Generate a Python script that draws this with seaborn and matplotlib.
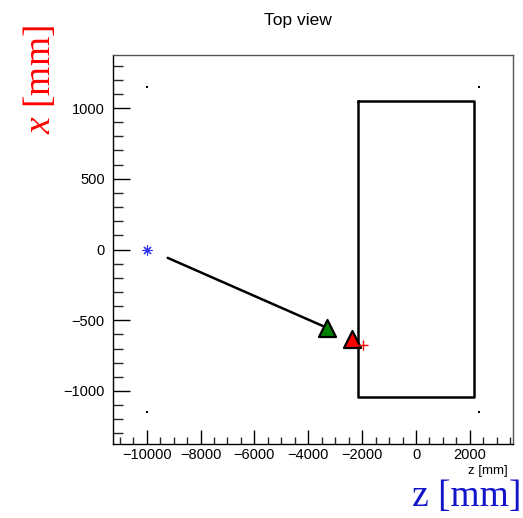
import matplotlib
matplotlib.use("Agg")
import matplotlib.pyplot as plt
from matplotlib.ticker import MultipleLocator
import seaborn as sns
import pandas as pd

# ---- data ----
box_z = [-2160, 2160, 2160, -2160, -2160]
box_x = [1050, 1050, -1045, -1045, 1050]
track_z = [-9220, -3315]
track_x = [-59, -553]
source_z = [-10000]
source_x = [0]
green_z = [-3315]
green_x = [-553]
red_tri_z = [-2365]
red_tri_x = [-636]
red_plus_z = [-1980]
red_plus_x = [-678]
corner_z = [-10000, 2350, -10000, 2350]
corner_x = [1150, 1150, -1150, -1150]

sns.set_theme(style="ticks")
plt.rcParams['font.family'] = ['Liberation Sans', 'DejaVu Sans']
plt.rcParams['mathtext.fontset'] = 'custom'
plt.rcParams['mathtext.it'] = 'Liberation Serif:italic'
plt.rcParams['mathtext.rm'] = 'Liberation Serif'

fig = plt.figure(figsize=(5.23, 5.18), dpi=100)
ax = fig.add_axes([113/523, (518-444)/518, 400/523, 389/518])

sns.lineplot(data=pd.DataFrame({'z': box_z, 'x': box_x}), x='z', y='x', sort=False,
             estimator=None, color='black', lw=1.8, ax=ax)
sns.lineplot(data=pd.DataFrame({'z': track_z, 'x': track_x}), x='z', y='x', sort=False,
             estimator=None, color='black', lw=1.8, ax=ax)
sns.scatterplot(x=corner_z, y=corner_x, color='black', s=1, marker='s', linewidth=0, ax=ax)
sns.scatterplot(x=source_z, y=source_x, color='#3333ff', s=45, marker=(8, 2, 0),
                linewidth=0.8, ax=ax)
sns.scatterplot(x=green_z, y=green_x, color='#008000', s=150, marker='^',
                edgecolor='black', linewidth=1.6, ax=ax, zorder=5)
sns.scatterplot(x=red_tri_z, y=red_tri_x, color='#ff0000', s=150, marker='^',
                edgecolor='black', linewidth=1.6, ax=ax, zorder=5)
sns.scatterplot(x=red_plus_z, y=red_plus_x, color='#ff0000', s=50, marker='+',
                linewidth=1.0, ax=ax, zorder=6)

ax.set_xlim(-11250, 3600)
ax.set_ylim(-1375, 1375)
ax.xaxis.set_major_locator(MultipleLocator(2000))
ax.xaxis.set_minor_locator(MultipleLocator(500))
ax.yaxis.set_major_locator(MultipleLocator(500))
ax.yaxis.set_minor_locator(MultipleLocator(100))
ax.tick_params(axis='x', which='major', direction='in', length=10, width=1, labelsize=10.5,
               pad=3, colors='black', top=False)
ax.tick_params(axis='x', which='minor', direction='in', length=5, width=1, top=False)
ax.tick_params(axis='y', which='major', direction='in', length=12, width=1, labelsize=10.5,
               pad=6, colors='black', right=False)
ax.tick_params(axis='y', which='minor', direction='in', length=7, width=1, right=False)
ax.set_xlabel('')
ax.set_ylabel('')
for s in ['left', 'bottom']:
    ax.spines[s].set_color('black')
    ax.spines[s].set_linewidth(1.0)
for s in ['top', 'right']:
    ax.spines[s].set_visible(True)
    ax.spines[s].set_color('#555555')
    ax.spines[s].set_linewidth(1.0)

fig.text(298/523, 1 - 20/518, 'Top view', ha='center', va='center', fontsize=12.5,
         color='black')
fig.text(508/523, 1 - 471/518, 'z [mm]', ha='right', va='center', fontsize=9.5, color='black')
fig.text(40/523, 1 - 80/518, r'$\mathit{x}$ [mm]', rotation=90, ha='center', va='center',
         fontsize=27, color='#ff0000', family='Liberation Serif')
fig.text(521/523, 1 - 497/518, 'z [mm]', ha='right', va='center',
         fontsize=27, color='#1414c8', family='Liberation Serif')

fig.savefig('out.png', dpi=100)
